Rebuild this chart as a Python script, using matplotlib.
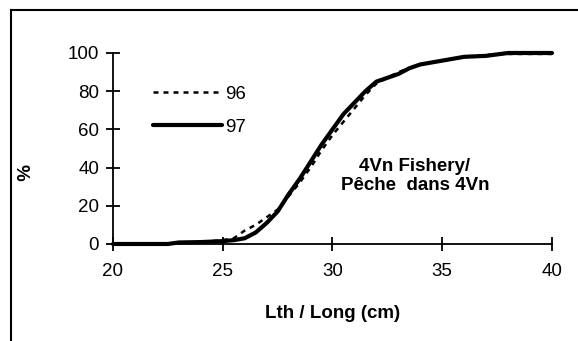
import matplotlib
matplotlib.use("Agg")
import matplotlib.pyplot as plt
from matplotlib.lines import Line2D

plt.rcParams['font.family'] = ['Liberation Sans', 'DejaVu Sans']

# length classes (cm) and cumulative percentages
length = [20, 21, 22, 22.5, 23, 24, 25, 25.5, 26, 26.5, 27, 27.5, 28, 28.5, 29,
          29.5, 30, 30.5, 31, 31.5, 32, 33, 33.5, 34, 35, 36, 37, 38, 39, 40]
cum_96 = [0, 0, 0, 0, 0.5, 1, 2, 3, 7, 10, 14, 18, 25, 32, 40,
          49, 57, 64, 71, 78, 84, 90, 92, 94, 96, 98, 99, 99.5, 99.5, 99.5]
cum_97 = [0, 0, 0, 0, 0.8, 1, 1.5, 2, 3, 6, 11, 17, 26, 34, 43,
          52, 60, 68, 74, 80, 85, 89, 92, 94, 96, 98, 98.5, 100, 100, 100]

fs = 13.5

fig = plt.figure(figsize=(5.78, 3.41), dpi=100)
ax = fig.add_axes([0.1955, 0.2845, 0.7595, 0.5601])

l96, = ax.plot(length, cum_96, color='black', lw=1.8, linestyle=(0, (2, 2)),
               clip_on=False, label='96')
l97, = ax.plot(length, cum_97, color='black', lw=3, solid_capstyle='round',
               clip_on=False, label='97')

ax.set_xlim(20, 40)
ax.set_ylim(0, 100)
ax.set_xticks([20, 25, 30, 35, 40])
ax.set_yticks([0, 20, 40, 60, 80, 100])
ax.spines['top'].set_visible(False)
ax.spines['right'].set_visible(False)
ax.spines['left'].set_linewidth(1.3)
ax.spines['bottom'].set_linewidth(1.3)
ax.tick_params(direction='inout', length=10, width=1.3, labelsize=fs)
ax.tick_params(axis='x', pad=9)
ax.tick_params(axis='y', pad=5)
ax.patch.set_alpha(0)

ax.set_xlabel('Lth / Long (cm)', fontsize=fs, fontweight='bold', labelpad=18)
fig.text(0.034, 0.495, '%', rotation=-90, fontsize=fs, fontweight='bold',
         ha='center', va='center')

ax.text(33.75, 35.5, '4Vn Fishery/\nPêche  dans 4Vn', fontsize=fs,
        fontweight='bold', ha='center', va='center', linespacing=1.2)

ax.legend(handles=[l96, l97], loc='upper left', bbox_to_anchor=(0.09, 0.83),
          frameon=False, fontsize=fs, handlelength=3.7, handletextpad=0.15,
          labelspacing=0.87, borderaxespad=0, borderpad=0)

# partial frame around the figure (top and left only)
fig.add_artist(Line2D([11 / 578, 11 / 578], [0, 1 - 10 / 341],
                      color='black', lw=1.5, transform=fig.transFigure))
fig.add_artist(Line2D([11 / 578, 1], [1 - 10 / 341, 1 - 10 / 341],
                      color='black', lw=1.5, transform=fig.transFigure))

fig.savefig('out.png', dpi=100)
